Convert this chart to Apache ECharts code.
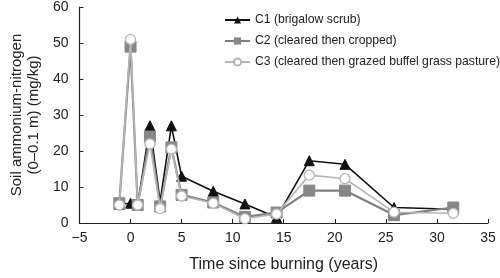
<!DOCTYPE html>
<html>
<head>
<meta charset="utf-8">
<script src="https://cdn.jsdelivr.net/npm/echarts@6/dist/echarts.min.js"></script>
<style>
  html, body { margin: 0; padding: 0; background: #fff; }
  #chart { width: 500px; height: 278px; }
</style>
</head>
<body>
<div id="chart"></div>
<script>
// years since burning for each sampling
const years = [-1.1, 0, 0.7, 1.9, 2.9, 4.0, 5.0, 8.1, 11.2, 14.3, 17.5, 21.0, 25.8, 31.6];
// soil ammonium-N (mg/kg)
const c1 = [5.2, 5.5, 5.0, 27.0, 6.0, 27.0, 13.0, 8.8, 5.3, 1.5, 17.3, 16.3, 4.3, 3.8];
const c2 = [5.5, 49.0, 5.0, 24.0, 4.6, 21.0, 7.8, 5.7, 1.7, 2.9, 9.0, 9.0, 2.2, 4.3];
const c3 = [5.0, 51.0, 5.0, 22.0, 4.0, 20.5, 7.5, 5.5, 1.2, 2.5, 13.3, 12.3, 3.0, 2.7];
const names = ['C1 (brigalow scrub)', 'C2 (cleared then cropped)', 'C3 (cleared then grazed buffel grass pasture)'];

const pts = (vals) => years.map((x, i) => [x, vals[i]]);
const font = 'Liberation Sans, Arial, sans-serif';

const chart = echarts.init(document.getElementById('chart'));
chart.setOption({
  animation: false,
  textStyle: { fontFamily: font },
  grid: { left: 69, right: 12, top: 7, bottom: 46 },
  legend: {
    orient: 'vertical',
    left: 219,
    top: 9,
    itemWidth: 25,
    itemHeight: 9,
    itemGap: 9,
    textStyle: { fontSize: 12.2, color: '#222', fontFamily: font },
    data: names
  },
  xAxis: {
    type: 'value',
    min: -5, max: 35, interval: 5,
    name: 'Time since burning (years)',
    nameLocation: 'middle',
    nameGap: 34,
    nameTextStyle: { fontSize: 16, color: '#222' },
    axisLine: { onZero: false, lineStyle: { color: '#222', width: 1.2 } },
    axisTick: { inside: true, length: 4, lineStyle: { color: '#222' } },
    axisLabel: {
      fontSize: 14, color: '#222', margin: 8,
      formatter: v => String(v).replace('-', '\u2212')
    },
    splitLine: { show: false }
  },
  yAxis: {
    type: 'value',
    min: 0, max: 60, interval: 10,
    name: 'Soil ammonium-nitrogen\n(0\u20130.1 m) (mg/kg)',
    nameLocation: 'middle',
    nameGap: 34,
    nameTextStyle: { fontSize: 15, color: '#222', lineHeight: 17 },
    axisLine: { show: true, onZero: false, lineStyle: { color: '#222', width: 1.2 } },
    axisTick: { show: true, inside: true, length: 4, lineStyle: { color: '#222' } },
    axisLabel: { fontSize: 14, color: '#222', margin: 11 },
    splitLine: { show: false }
  },
  series: [
    {
      name: names[0], type: 'line', data: pts(c1),
      symbol: 'triangle', symbolSize: 10,
      lineStyle: { color: '#111', width: 1.6 },
      itemStyle: { color: '#111', borderColor: '#111' },
      z: 2
    },
    {
      name: names[1], type: 'line', data: pts(c2),
      symbol: 'rect', symbolSize: 11,
      lineStyle: { color: '#808080', width: 2.2 },
      itemStyle: { color: '#878787', borderColor: '#878787' },
      z: 3
    },
    {
      name: names[2], type: 'line', data: pts(c3),
      symbol: 'circle', symbolSize: 10, showAllSymbol: true,
      lineStyle: { color: '#b6b6b6', width: 1.6 },
      itemStyle: { color: '#fff', borderColor: '#b6b6b6', borderWidth: 1.3 },
      z: 4
    }
  ]
});
</script>
</body>
</html>
